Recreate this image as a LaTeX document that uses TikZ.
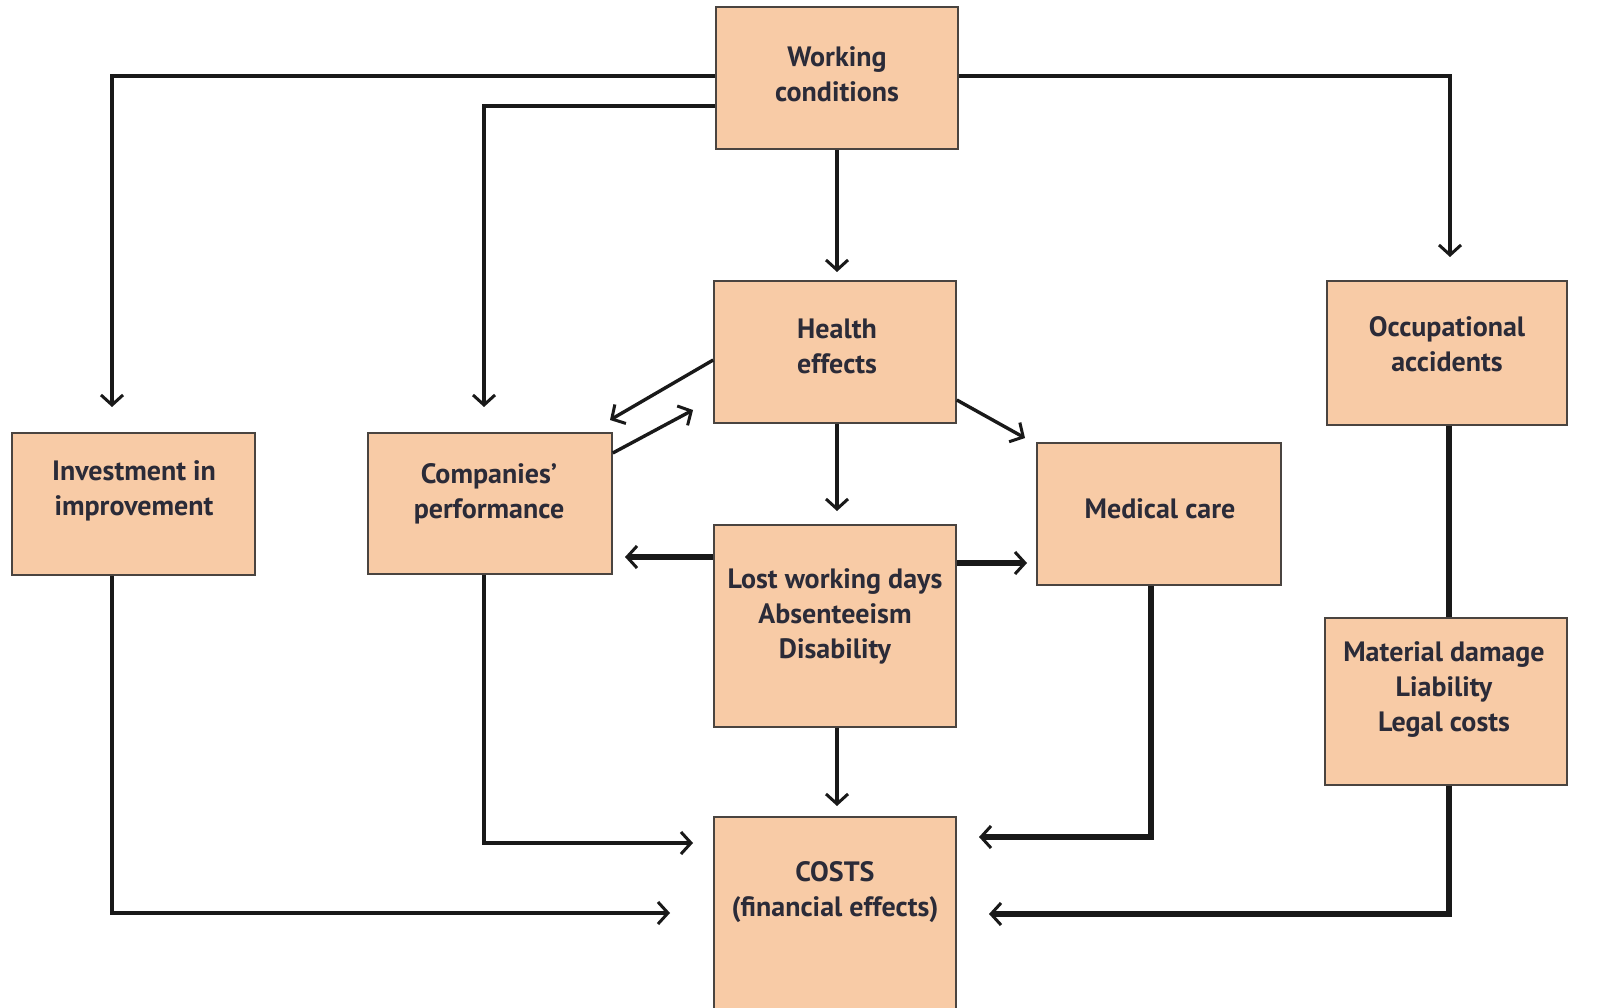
\documentclass[tikz,border=0pt]{standalone}
\usepackage{fontspec}
\setmainfont{PT Sans}
\usetikzlibrary{arrows.meta}
\definecolor{boxfill}{HTML}{F8CBA6}
\definecolor{boxline}{HTML}{4A4440}
\definecolor{txtcol}{HTML}{2B2B38}
\tikzset{
  box/.style={draw=boxline, line width=1.6pt, fill=boxfill, inner sep=0pt},
  txt/.style={align=center, text=txtcol, font=\fontsize{28}{35}\selectfont\bfseries, inner sep=0pt},
  conn/.style={line width=3.4pt, draw=black!90},
  heavy/.style={line width=5.5pt, draw=black!90},
  arr/.style={conn, -{Straight Barb[length=10pt,width=22pt,line width=3pt]}},
  harr/.style={heavy, -{Straight Barb[length=10pt,width=22pt,line width=3pt]}}
}
\begin{document}
\begin{tikzpicture}[x=1pt,y=-1pt]
\useasboundingbox (0,0) rectangle (1610,1008);
% boxes
\node[box, minimum width=242pt, minimum height=142pt] (wc) at (837,78) {};
\node[box, minimum width=242pt, minimum height=142pt] (he) at (835,352) {};
\node[box, minimum width=240pt, minimum height=144pt] (oa) at (1447,353) {};
\node[box, minimum width=243pt, minimum height=142pt] (inv) at (133.5,504) {};
\node[box, minimum width=244pt, minimum height=141pt] (cp) at (490,503.5) {};
\node[box, minimum width=244pt, minimum height=142pt] (mc) at (1159,514) {};
\node[box, minimum width=242pt, minimum height=202pt] (lwd) at (835,626) {};
\node[box, minimum width=242pt, minimum height=167pt] (md) at (1446,701.5) {};
\node[box, minimum width=242pt, minimum height=213pt] (costs) at (835,923.5) {};
% texts
\node[txt] (twc) at (837,74) {Working\\conditions};
\node[txt] (the) at (837,346) {Health\\effects};
\node[txt] (toa) at (1447,344) {Occupational\\accidents};
\node[txt] (tinv) at (134,491) {Investment in\\improvement};
\node[txt] (tcp) at (489,494) {Companies’\\performance};
\node[txt] (tmc) at (1160,509) {Medical care};
\node[txt] (tlwd) at (835,616) {Lost working days\\Absenteeism\\Disability};
\node[txt] (tmd) at (1444,690) {Material damage\\Liability\\Legal costs};
\node[txt] (tcosts) at (835,892) {COSTS\\(financial effects)};
% free ends
\coordinate (inv-in) at (112,407);
\coordinate (cp-in) at (484,407);
\coordinate (oa-in) at (1450,257);
\coordinate (he-in) at (837,272);
\coordinate (cp-in2) at (610,420);
\coordinate (he-in2) at (693,410);
\coordinate (mc-in) at (1025,438);
\coordinate (lwd-in) at (837,511);
\coordinate (cp-in3) at (625,557);
\coordinate (mc-in2) at (1027,563);
\coordinate (costs-in) at (837,806);
\coordinate (costs-in2) at (693,843);
\coordinate (costs-in3) at (670,913);
\coordinate (costs-in4) at (979,837);
\coordinate (costs-in5) at (989,914);
% connectors
\draw[arr] (wc.west |- 0,76) -| (inv-in);
\draw[arr] (wc.west |- 0,106) -| (cp-in);
\draw[arr] (wc.east |- 0,76) -| (oa-in);
\draw[arr] (wc.south) -- (he-in);
\draw[arr] (he.west |- 0,360) -- (cp-in2);
\draw[arr] (cp.east |- 0,453) -- (he-in2);
\draw[arr] (he.east |- 0,400) -- (mc-in);
\draw[arr] (he.south -| 837,0) -- (lwd-in);
\draw[harr] (lwd.west |- 0,557) -- (cp-in3);
\draw[harr] (lwd.east |- 0,563) -- (mc-in2);
\draw[arr] (lwd.south -| 837,0) -- (costs-in);
\draw[arr] (cp.south -| 484,0) |- (costs-in2);
\draw[arr] (inv.south -| 112,0) |- (costs-in3);
\draw[harr] (mc.south -| 1151,0) |- (costs-in4);
\draw[heavy] (oa.south -| 1449,0) -- (md.north -| 1449,0);
\draw[harr] (md.south -| 1449,0) |- (costs-in5);
\end{tikzpicture}
\end{document}
